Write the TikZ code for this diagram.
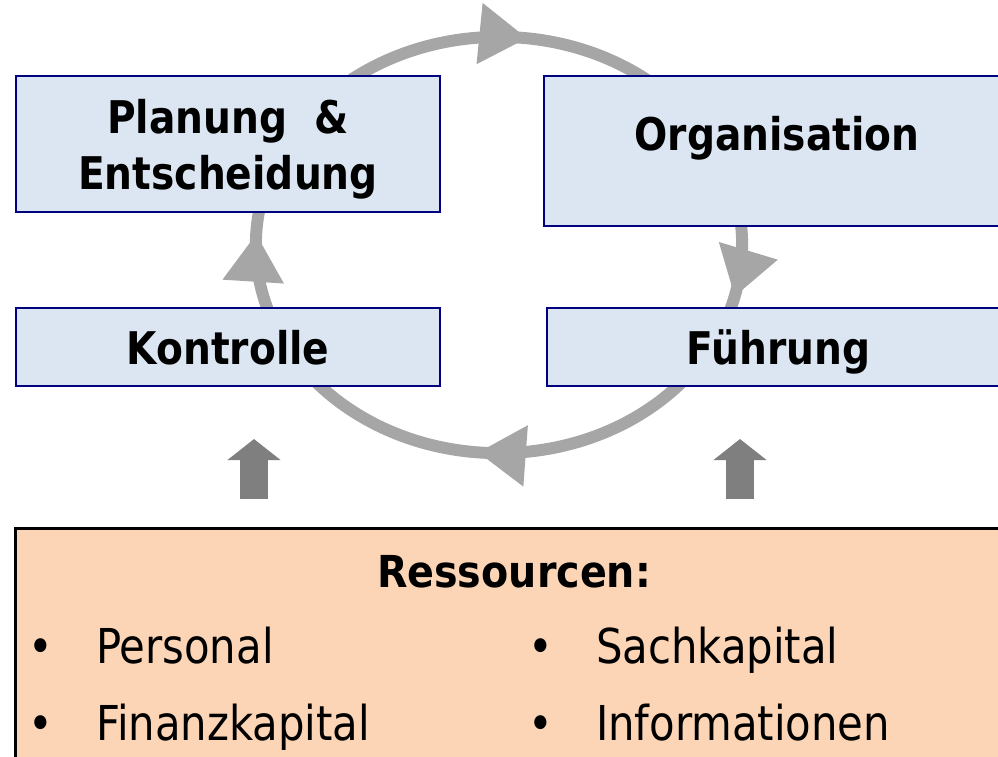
\documentclass[tikz,border=0pt]{standalone}
\usepackage{fontspec}
\setmainfont{DejaVu Sans}
\newfontfamily\taskfont[FakeStretch=0.87]{DejaVu Sans}
\newfontfamily\resfont[FakeStretch=0.9]{DejaVu Sans}
\newfontfamily\itemfont[FakeStretch=0.87]{DejaVu Sans}
\usepackage{tikz}
\usetikzlibrary{arrows.meta,decorations.markings}
\definecolor{taskblue}{RGB}{220,230,242}
\definecolor{taskline}{RGB}{0,0,128}
\definecolor{resorange}{RGB}{251,213,181}
\definecolor{ringgrey}{RGB}{166,166,166}
\definecolor{feedgrey}{RGB}{127,127,127}
\tikzset{every picture/.style={line width=.55pt},
 ringtip/.tip={Triangle[length=.48cm,width=.58cm]}}

\begin{document}
\begin{tikzpicture}[x=.01cm,y=-.01cm,
 task/.style={draw=taskline,fill=taskblue,line width=.65pt,inner sep=0pt,
  align=center,text height=.34cm,text depth=0pt,
  font=\taskfont\bfseries\fontsize{12.8}{15.93}\selectfont},
 ring/.style={draw=ringgrey,line width=3.4pt,
  decoration={markings,
   mark=at position .037 with {\arrow{ringtip}},
   mark=at position .265 with {\arrow{ringtip}},
   mark=at position .508 with {\arrow{ringtip}},
   mark=at position .77 with {\arrow{ringtip}}},
  postaction={decorate}},
 feed/.style={draw=feedgrey,line width=.28cm,
  -{Triangle[length=.21cm,width=.52cm]}},
 item/.style={anchor=base west,inner sep=0pt,
  font=\itemfont\fontsize{13.66}{16}\selectfont}]
 \useasboundingbox (0,0) rectangle (998,756);
 \clip (0,0) rectangle (998,756);

 % The management cycle runs clockwise behind the four tasks.
 \coordinate (cyc) at (499,245);
 \draw[ring] (cyc) ++(2.43cm,0)
  arc[start angle=0,end angle=-360,x radius=2.43cm,y radius=2.08cm];

 \node[task,minimum width=4.24cm,minimum height=1.36cm,text height=.9cm] (plan)
  at (228,144) {Planung\ \ \&\\Entscheidung};
 \node[task,minimum width=4.66cm,minimum height=1.5cm,text depth=.36cm] (org)
  at (777,151) {Organisation};
 \node[task,minimum width=4.24cm,minimum height=.78cm] (kontr)
  at (228,347) {Kontrolle};
 \node[task,minimum width=4.63cm,minimum height=.78cm] (fuehr)
  at (778.5,347) {Führung};

 % Resources feed the cycle from below.
 \node[draw=black,fill=resorange,line width=.85pt,
  minimum width=9.94cm,minimum height=2.41cm] (res) at (513,649.5) {};
 \node[anchor=base,inner sep=0pt,
  font=\resfont\bfseries\fontsize{12.52}{15}\selectfont] (restitle)
  at (514,587) {Ressourcen:};
 \node[item] (pers) at (28,663) {\makebox[.67cm][l]{•}Personal};
 \node[item] (sach) at (528,663) {\makebox[.67cm][l]{•}Sachkapital};
 \node[item] (finanz) at (28,740) {\makebox[.67cm][l]{•}Finanzkapital};
 \node[item] (info) at (528,740) {\makebox[.67cm][l]{•}Informationen};

 \coordinate (kin) at (254,439);
 \coordinate (fin) at (740,439);
 \draw[feed] (res.north -| kin) ++(0,-28) -- (kin);
 \draw[feed] (res.north -| fin) ++(0,-28) -- (fin);
\end{tikzpicture}
\end{document}
